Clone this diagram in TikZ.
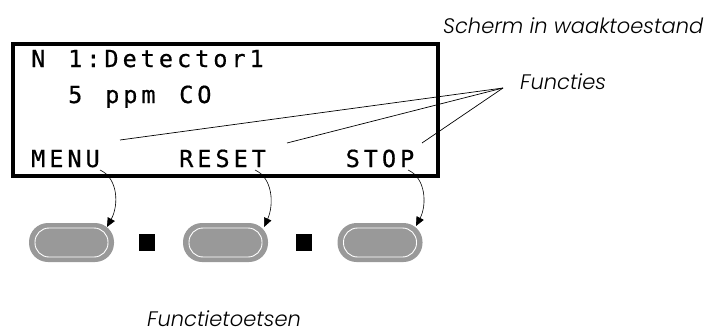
\documentclass[tikz,border=0pt]{standalone}
\usepackage{fontspec}
\usetikzlibrary{arrows.meta}
\newfontfamily\lcdfont{DejaVu Sans Mono}[LetterSpace=17,FakeBold=0.6]
\newfontfamily\labfont{Poppins}[ItalicFont={Poppins Light Italic}]
\definecolor{btngray}{HTML}{999999}
\tikzset{
  lcd/.style={anchor=base west, inner sep=0pt, font=\lcdfont\fontsize{23.5}{26}\selectfont},
  lab/.style={anchor=base west, inner sep=0pt, text depth=0pt, font=\labfont\itshape\fontsize{21}{24}\selectfont},
  leader/.style={line width=0.7pt},
  keyarrow/.style={line width=0.6pt, -{Triangle[length=9pt,width=8pt]}},
  btn/.style={rounded corners=19pt, fill=btngray, minimum width=85pt, minimum height=39pt, inner sep=0pt},
  btninner/.style={rounded corners=14pt, draw=white, line width=0.9pt, minimum width=73pt, minimum height=29pt, inner sep=0pt},
  sep/.style={fill=black, minimum width=16pt, minimum height=17pt, inner sep=0pt}
}
\begin{document}
\begin{tikzpicture}[x=1pt,y=-1pt]
\useasboundingbox (0,0) rectangle (715,332);
% display
\draw[line width=4pt] (12.5,44) rectangle (438,175.5);
\node[lcd] (n) at (31,67) {N};
\node[lcd] (det) at (68,67) {1:Detector1};
\node[lcd] (five) at (68,103) {5};
\node[lcd] (ppm) at (105,103) {ppm};
\node[lcd] (co) at (179,103) {CO};
\node[lcd] (menu) at (31,167) {MENU};
\node[lcd] (reset) at (179,167) {RESET};
\node[lcd] (stop) at (345.5,167) {STOP};
% labels
\node[lab] (scherm) at (443,33) {Scherm in waaktoestand};
\node[lab] (functies) at (520,89) {Functies};
\node[lab] (toetsen) at (147,326) {Functietoetsen};
% leader lines
\coordinate (f) at (503,88);
\coordinate (fm) at (120,140);
\coordinate (fr) at (287,143);
\coordinate (fs) at (422,143);
\draw[leader] (f) -- (fm);
\draw[leader] (f) -- (fr);
\draw[leader] (f) -- (fs);
% buttons
\node[btn] (b1) at (71.5,242.5) {};
\node[btninner] at (b1) {};
\node[btn] (b2) at (225.5,242.5) {};
\node[btninner] at (b2) {};
\node[btn] (b3) at (380,242.5) {};
\node[btninner] at (b3) {};
\node[sep] (s1) at (147,242.5) {};
\node[sep] (s2) at (303.5,242.5) {};
% key arrows
\coordinate (m0) at (100,170);
\coordinate (r0) at (255,170);
\coordinate (t0) at (408,170);
\draw[keyarrow] (m0) .. controls (118,178) and (119,205) .. (107,227);
\draw[keyarrow] (r0) .. controls (273,178) and (274,205) .. (264,227);
\draw[keyarrow] (t0) .. controls (426,178) and (427,205) .. (416,226);
\end{tikzpicture}
\end{document}
